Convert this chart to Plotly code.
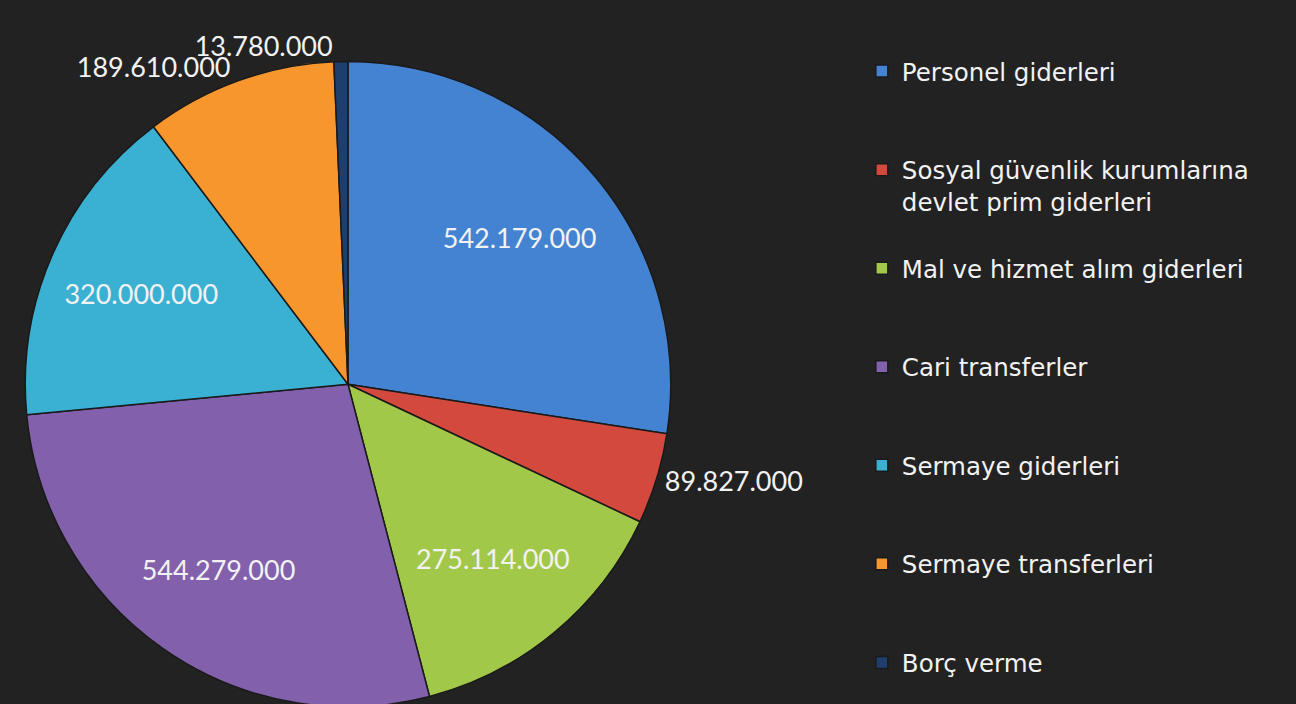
import plotly.graph_objects as go

categories = [
    "Personel giderleri",
    "Sosyal güvenlik kurumlarına<br>devlet prim giderleri",
    "Mal ve hizmet alım giderleri",
    "Cari transferler",
    "Sermaye giderleri",
    "Sermaye transferleri",
    "Borç verme",
]
values = [542179000, 89827000, 275114000, 544279000, 320000000, 189610000, 13780000]
colors = ["#4483D1", "#D3493E", "#A2C84A", "#8260AC", "#3AB1D3", "#F7962D", "#1E3E6E"]
# where each value label sits: inside ring, outside (main), outside (separate layer)
label_place = ["in", "out", "in", "in", "in", "out", "out2"]

W, H = 1296, 712  # page window is 704 tall: the bottom of the pie is cut off like the original
BG = "#222222"
FONT = "Lato, Liberation Sans, sans-serif"
texts = [f"{v:,}".replace(",", ".") for v in values]

legend_labels = []
for i, c in enumerate(categories):
    n = c.count("<br>") + 1
    pad = 0 if i == len(categories) - 1 else 3 - n
    legend_labels.append(c + "<br> " * pad)

r = 325
cx, top = 348, 62
dom = dict(x=[(cx - r) / W, (cx + r) / W], y=[1 - (top + 2 * r) / H, 1 - top / H])
common = dict(labels=legend_labels, values=values, text=texts, textinfo="text",
              sort=False, direction="clockwise", rotation=0, domain=dom)
lab_font = dict(family=FONT, size=27, color="#F2F2F2")

# main pie: coloured slices + outside labels
fig = go.Figure(go.Pie(
    **common,
    textposition=["outside" if p == "out" else "none" for p in label_place],
    marker=dict(colors=colors, line=dict(color="#1a1a1a", width=1.5)),
    outsidetextfont=lab_font,
    hoverinfo="label+value",
))

# transparent ring on top that carries the inside labels (placed further out, as in the original)
fig.add_trace(go.Pie(
    **common,
    textposition=["inside" if p == "in" else "none" for p in label_place],
    insidetextorientation="horizontal",
    hole=0.4,
    marker=dict(colors=["rgba(0,0,0,0)"] * len(values), line=dict(width=0)),
    insidetextfont=lab_font,
    showlegend=False,
    hoverinfo="skip",
))

# separate transparent layer for the smallest slice label so it is not pushed aside
fig.add_trace(go.Pie(
    **common,
    textposition=["outside" if p == "out2" else "none" for p in label_place],
    marker=dict(colors=["rgba(0,0,0,0)"] * len(values), line=dict(width=0)),
    outsidetextfont=lab_font,
    showlegend=False,
    hoverinfo="skip",
))

fig.update_layout(
    width=W, height=H,
    margin=dict(l=0, r=0, t=0, b=0),
    paper_bgcolor=BG,
    plot_bgcolor=BG,
    showlegend=True,
    legend=dict(
        x=0.665, y=1 - 49 / H, xanchor="left", yanchor="top",
        font=dict(family="DejaVu Sans, sans-serif", size=24.5, color="#F2F2F2"),
        valign="top",
        itemwidth=30,
        maxheight=1,
        bgcolor="rgba(0,0,0,0)",
    ),
)

fig.write_html(
    "out.html",
    config={"displayModeBar": False},
    post_script="document.body.style.margin='0';document.body.style.overflow='hidden';"
                "document.body.style.background='%s';document.documentElement.style.background='%s';" % (BG, BG),
)
